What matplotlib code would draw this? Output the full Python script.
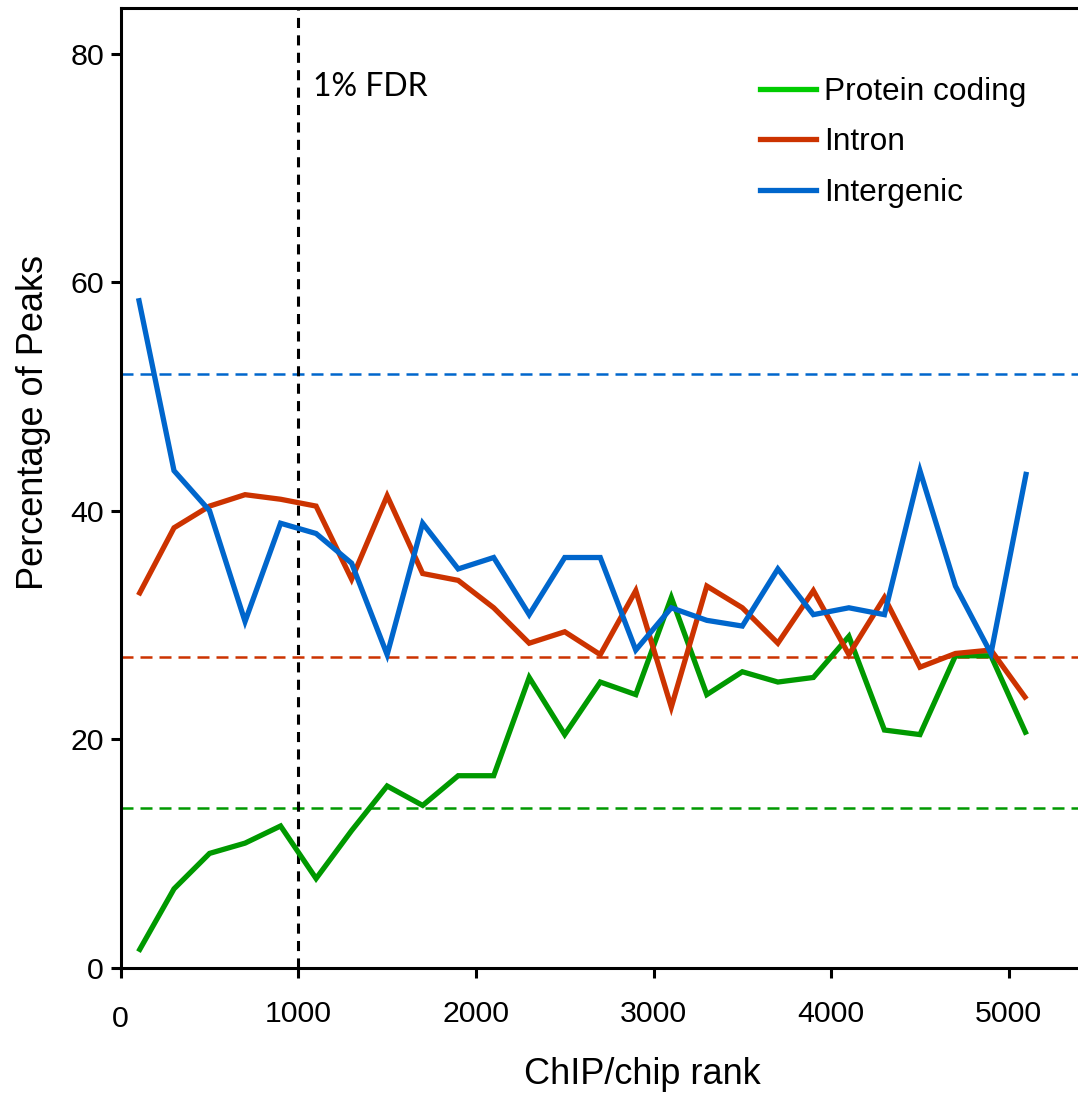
import matplotlib
matplotlib.use("Agg")
import matplotlib.pyplot as plt
from matplotlib.lines import Line2D

plt.rcParams['font.family'] = ['Liberation Sans', 'DejaVu Sans']

# ChIP/chip rank bins (bin centres)
ranks = [100, 300, 500, 700, 900, 1100, 1300, 1500, 1700, 1900, 2100, 2300, 2500,
         2700, 2900, 3100, 3300, 3500, 3700, 3900, 4100, 4300, 4500, 4700, 4900, 5100]

protein_coding = [1.4, 6.9, 10.0, 10.9, 12.4, 7.8, 12.0, 15.9, 14.2, 16.8, 16.8, 25.4, 20.4,
                  25.0, 23.9, 32.4, 23.9, 25.9, 25.0, 25.4, 29.0, 20.8, 20.4, 27.3, 27.3, 20.4]
intron = [32.6, 38.5, 40.4, 41.4, 41.0, 40.4, 34.0, 41.3, 34.5, 33.9, 31.5, 28.4, 29.4,
          27.4, 33.0, 22.8, 33.4, 31.5, 28.4, 33.0, 27.4, 32.4, 26.3, 27.5, 27.8, 23.5]
intergenic = [58.6, 43.5, 40.0, 30.3, 38.9, 38.0, 35.4, 27.4, 38.9, 34.9, 35.9, 30.9, 35.9,
              35.9, 27.8, 31.5, 30.4, 29.9, 34.9, 30.9, 31.5, 30.9, 43.5, 33.4, 27.5, 43.4]

# genome-wide background percentages (dashed lines)
background = {'Protein coding': 14.0, 'Intron': 27.2, 'Intergenic': 52.0}
fdr_rank = 1000

names = ['Protein coding', 'Intron', 'Intergenic']
series = [protein_coding, intron, intergenic]
colors = ['#009900', '#cc3300', '#0066cc']
legend_colors = ['#00cc00', '#cc3300', '#0066cc']

fig = plt.figure(figsize=(10.78, 10.95), dpi=100)
ax = fig.add_axes([0.112, 0.1163, 0.888, 0.8764])

for name, ys, c in zip(names, series, colors):
    ax.axhline(background[name], color=c, lw=1.8, dashes=(4.8, 2.8))

ax.axvline(fdr_rank, color='black', lw=2.2, dashes=(3.3, 2.4))

for name, ys, c in zip(names, series, colors):
    ax.plot(ranks, ys, color=c, lw=3.8, solid_joinstyle='miter', solid_capstyle='butt')

ax.text(fdr_rank + 80, 77.1, '1% FDR', fontsize=23, family=['Lato', 'DejaVu Sans'],
        va='center', ha='left')

ax.set_xlim(0, 5390)
ax.set_ylim(0, 84)
ax.set_xticks([0, 1000, 2000, 3000, 4000, 5000])
ax.set_yticks([0, 20, 40, 60, 80])
ax.tick_params(axis='both', direction='out', length=7, width=2.2, labelsize=21.8)
ax.tick_params(axis='y', pad=5)
ax.tick_params(axis='x', pad=16)
ax.get_xticklabels()[0].set_y(-0.006)

for side in ['left', 'bottom', 'top']:
    ax.spines[side].set_linewidth(2.2)
ax.spines['right'].set_visible(False)

ax.set_ylabel('Percentage of Peaks', fontsize=26)
ax.yaxis.set_label_coords(-0.073, 0.568)
ax.set_xlabel('ChIP/chip rank', fontsize=26)
ax.xaxis.set_label_coords(0.545, -0.093)

handles = [Line2D([], [], color=c, lw=3.8) for c in legend_colors]
ax.legend(handles, names, loc='upper left', bbox_to_anchor=(0.668, 0.928),
          frameon=False, fontsize=22.8, handlelength=1.75, handletextpad=0.28,
          labelspacing=0.64, borderpad=0, borderaxespad=0)

fig.savefig('out.png', dpi=100)
